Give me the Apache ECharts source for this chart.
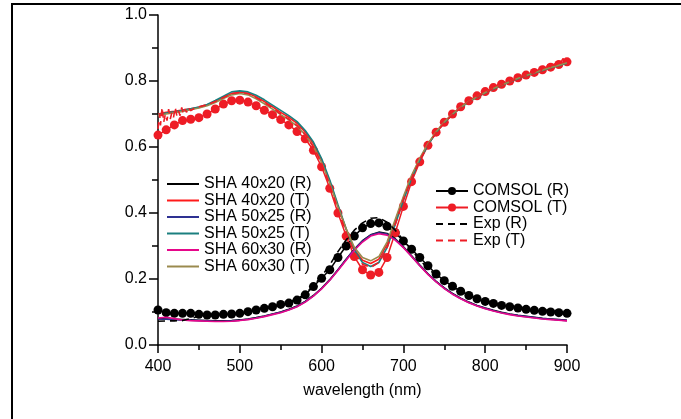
<!DOCTYPE html>
<html><head><meta charset="utf-8">
<script src="https://cdn.jsdelivr.net/npm/echarts@6/dist/echarts.min.js"></script>
<style>html,body{margin:0;padding:0;background:#fff}#c{width:681px;height:419px}</style>
</head><body><div id="c"></div>
<script>
// wavelength grid (nm)
const wl = [400,410,420,430,440,450,460,470,480,490,500,510,520,530,540,550,560,570,580,590,600,610,620,630,640,650,660,670,680,690,700,710,720,730,740,750,760,770,780,790,800,810,820,830,840,850,860,870,880,890,900];

const sha40R = [0.080,0.079,0.078,0.077,0.076,0.075,0.074,0.073,0.073,0.074,0.076,0.079,0.083,0.088,0.094,0.100,0.108,0.118,0.132,0.150,0.172,0.198,0.228,0.260,0.290,0.316,0.334,0.342,0.338,0.322,0.298,0.270,0.242,0.216,0.193,0.173,0.156,0.142,0.130,0.120,0.112,0.105,0.099,0.094,0.090,0.087,0.084,0.081,0.079,0.077,0.075];
const sha40T = [0.700,0.705,0.708,0.712,0.716,0.720,0.727,0.738,0.750,0.762,0.766,0.763,0.752,0.738,0.722,0.705,0.690,0.672,0.645,0.610,0.560,0.495,0.420,0.350,0.290,0.257,0.247,0.260,0.305,0.375,0.445,0.510,0.563,0.608,0.645,0.675,0.700,0.720,0.738,0.752,0.765,0.777,0.788,0.798,0.808,0.817,0.825,0.833,0.841,0.848,0.855];
const sha50R = [0.079,0.078,0.077,0.076,0.075,0.074,0.073,0.072,0.072,0.073,0.075,0.078,0.082,0.087,0.093,0.099,0.107,0.117,0.131,0.149,0.171,0.197,0.227,0.259,0.289,0.315,0.333,0.340,0.336,0.320,0.296,0.269,0.241,0.215,0.192,0.172,0.155,0.141,0.129,0.119,0.111,0.104,0.098,0.093,0.089,0.086,0.083,0.080,0.078,0.076,0.074];
const sha50T = [0.698,0.703,0.707,0.711,0.716,0.721,0.729,0.741,0.754,0.767,0.770,0.767,0.757,0.743,0.727,0.711,0.695,0.677,0.650,0.615,0.565,0.500,0.425,0.352,0.288,0.250,0.238,0.250,0.295,0.365,0.438,0.505,0.560,0.606,0.644,0.674,0.699,0.719,0.737,0.751,0.764,0.776,0.787,0.797,0.807,0.816,0.824,0.832,0.840,0.847,0.854];
const sha60R = [0.082,0.084,0.080,0.076,0.074,0.073,0.072,0.071,0.071,0.072,0.074,0.077,0.081,0.086,0.092,0.098,0.106,0.116,0.130,0.148,0.170,0.196,0.226,0.257,0.287,0.312,0.330,0.337,0.333,0.318,0.295,0.268,0.240,0.214,0.191,0.171,0.154,0.140,0.128,0.118,0.110,0.103,0.097,0.092,0.088,0.085,0.082,0.079,0.077,0.075,0.073];
const sha60T = [0.695,0.700,0.704,0.708,0.713,0.718,0.725,0.735,0.747,0.758,0.762,0.758,0.746,0.731,0.715,0.698,0.682,0.663,0.637,0.602,0.553,0.490,0.418,0.352,0.296,0.265,0.255,0.268,0.312,0.380,0.450,0.514,0.566,0.610,0.646,0.676,0.700,0.720,0.738,0.752,0.765,0.777,0.788,0.798,0.808,0.817,0.825,0.833,0.841,0.848,0.855];

const comsolR = [0.106,0.098,0.096,0.096,0.096,0.093,0.091,0.091,0.093,0.094,0.096,0.101,0.106,0.111,0.116,0.123,0.127,0.136,0.152,0.177,0.202,0.228,0.265,0.300,0.330,0.355,0.368,0.370,0.360,0.340,0.315,0.290,0.265,0.240,0.215,0.195,0.178,0.163,0.150,0.140,0.132,0.126,0.120,0.116,0.112,0.108,0.105,0.102,0.100,0.098,0.096];
const comsolT = [0.636,0.652,0.667,0.680,0.684,0.689,0.700,0.715,0.730,0.740,0.742,0.736,0.725,0.711,0.698,0.683,0.667,0.647,0.625,0.590,0.540,0.475,0.400,0.330,0.268,0.228,0.212,0.220,0.265,0.340,0.420,0.495,0.555,0.605,0.645,0.675,0.700,0.722,0.740,0.755,0.768,0.780,0.790,0.800,0.810,0.818,0.826,0.834,0.842,0.850,0.858];

const expRWl = [400,410,420,430,440,450,460,470,480,490,500,510,520,530,540,550,560,570,580,590,600,610,620,630,640,650,660,670,680,690,700,710,720,730,740,750,760,770,780,790,800,810,820,830,840,850,860,870,880,890,900];
const expR = [0.072,0.073,0.073,0.074,0.080,0.088,0.090,0.091,0.093,0.095,0.097,0.101,0.106,0.111,0.117,0.124,0.130,0.140,0.155,0.180,0.208,0.243,0.283,0.318,0.348,0.370,0.384,0.386,0.372,0.348,0.318,0.288,0.258,0.232,0.211,0.192,0.176,0.163,0.151,0.141,0.134,0.128,0.123,0.119,0.115,0.112,0.109,0.107,0.105,0.103,0.101];
const expTWl = [400,402,403,405,407,409,411,413,415,417,419,421,423,425,427,429,431,433,435,437,440,445,450,460,470,480,490,500,510,520,530,540,550,560,570,580,590,600,610,620,630,640,650,660,670,680,690,700,710,720,730,740,750,760,770,780,790,800,810,820,830,840,850,860,865,868,871,874,877,880,883,886,889,892,895,898,900];
const expT = [0.655,0.700,0.665,0.720,0.675,0.700,0.680,0.715,0.685,0.705,0.690,0.720,0.695,0.710,0.695,0.720,0.700,0.715,0.705,0.720,0.710,0.718,0.722,0.728,0.738,0.750,0.762,0.765,0.762,0.750,0.735,0.718,0.700,0.684,0.665,0.638,0.600,0.550,0.485,0.410,0.340,0.280,0.245,0.235,0.250,0.295,0.365,0.440,0.505,0.560,0.605,0.643,0.673,0.698,0.718,0.737,0.752,0.765,0.777,0.788,0.798,0.808,0.817,0.826,0.838,0.830,0.845,0.836,0.850,0.843,0.855,0.848,0.862,0.853,0.868,0.858,0.865];

const pairs = (xs, ys) => xs.map((x, i) => [x, ys[i]]);
const FONT = "'Liberation Sans', Arial, sans-serif";
const noSym = { color: 'rgba(0,0,0,0)', borderColor: 'rgba(0,0,0,0)', borderWidth: 0 };

const shaLine = (name, data, color, z) => ({
  name, type: 'line', data: pairs(wl, data), showSymbol: false, symbol: 'none',
  lineStyle: { color, width: 1.6 }, itemStyle: { color }, z
});

const chart = echarts.init(document.getElementById('c'), null, { renderer: 'canvas' });
chart.setOption({
  animation: false,
  backgroundColor: '#fff',
  grid: { left: 158, right: 114, top: 15, bottom: 74, containLabel: false },
  xAxis: {
    type: 'value', min: 400, max: 900, interval: 100,
    name: 'wavelength (nm)', nameLocation: 'middle', nameGap: 38,
    nameTextStyle: { fontFamily: FONT, fontSize: 16, color: '#000' },
    axisLine: { lineStyle: { color: '#000', width: 1.5 } },
    axisTick: { length: 8, lineStyle: { color: '#000', width: 1.5 } },
    minorTick: { show: true, splitNumber: 2, length: 5, lineStyle: { color: '#000', width: 1.5 } },
    axisLabel: { fontFamily: FONT, fontSize: 16, color: '#000', margin: 14 },
    splitLine: { show: false }
  },
  yAxis: {
    type: 'value', min: 0, max: 1, interval: 0.2,
    axisLine: { show: true, lineStyle: { color: '#000', width: 1.5 } },
    axisTick: { show: true, length: 9, lineStyle: { color: '#000', width: 1.5 } },
    minorTick: { show: true, splitNumber: 2, length: 6, lineStyle: { color: '#000', width: 1.5 } },
    axisLabel: { fontFamily: FONT, fontSize: 16, color: '#000', margin: 11, formatter: v => v.toFixed(1) },
    splitLine: { show: false }
  },
  legend: [
    {
      data: ['SHA 40x20 (R)','SHA 40x20 (T)','SHA 50x25 (R)','SHA 50x25 (T)','SHA 60x30 (R)','SHA 60x30 (T)']
        .map(n => ({ name: n, itemStyle: noSym })),
      orient: 'vertical', left: 166, top: 176, itemWidth: 32, itemHeight: 10, itemGap: 0.5,
      textStyle: { fontFamily: FONT, fontSize: 16, color: '#000', lineHeight: 14 }, padding: 0
    },
    {
      data: [{ name: 'COMSOL (R)' }, { name: 'COMSOL (T)' },
             { name: 'Exp (R)', itemStyle: noSym }, { name: 'Exp (T)', itemStyle: noSym }],
      orient: 'vertical', left: 435, top: 183, itemWidth: 32, itemHeight: 10, itemGap: 0.5,
      textStyle: { fontFamily: FONT, fontSize: 16, color: '#000', lineHeight: 14 }, padding: 0
    }
  ],
  graphic: [
    { type: 'line', shape: { x1: 11, y1: 4, x2: 681, y2: 4 }, style: { stroke: '#000', lineWidth: 2 }, silent: true },
    { type: 'line', shape: { x1: 12, y1: 4, x2: 12, y2: 419 }, style: { stroke: '#000', lineWidth: 2 }, silent: true }
  ],
  series: [
    { name: 'COMSOL (R)', type: 'line', data: pairs(wl, comsolR), symbol: 'circle', symbolSize: 9,
      lineStyle: { color: '#000', width: 1.5 }, itemStyle: { color: '#000' }, z: 2 },
    { name: 'COMSOL (T)', type: 'line', data: pairs(wl, comsolT), symbol: 'circle', symbolSize: 9,
      lineStyle: { color: '#ee1c25', width: 1.5 }, itemStyle: { color: '#ee1c25' }, z: 2 },
    shaLine('SHA 40x20 (R)', sha40R, '#000000', 3),
    shaLine('SHA 40x20 (T)', sha40T, '#ff1a1a', 3),
    shaLine('SHA 50x25 (R)', sha50R, '#2e3192', 3),
    shaLine('SHA 50x25 (T)', sha50T, '#1b7f7f', 3),
    shaLine('SHA 60x30 (R)', sha60R, '#e6078a', 3),
    shaLine('SHA 60x30 (T)', sha60T, '#9a8a4e', 3),
    { name: 'Exp (R)', type: 'line', data: pairs(expRWl, expR), symbol: 'none', showSymbol: false,
      lineStyle: { color: '#000', width: 1.6, type: [7, 5] }, itemStyle: { color: '#000' }, z: 4 },
    { name: 'Exp (T)', type: 'line', data: pairs(expTWl, expT), symbol: 'none', showSymbol: false,
      lineStyle: { color: '#ee1c25', width: 1.6, type: [7, 5] }, itemStyle: { color: '#ee1c25' }, z: 4 }
  ]
});
</script></body></html>
